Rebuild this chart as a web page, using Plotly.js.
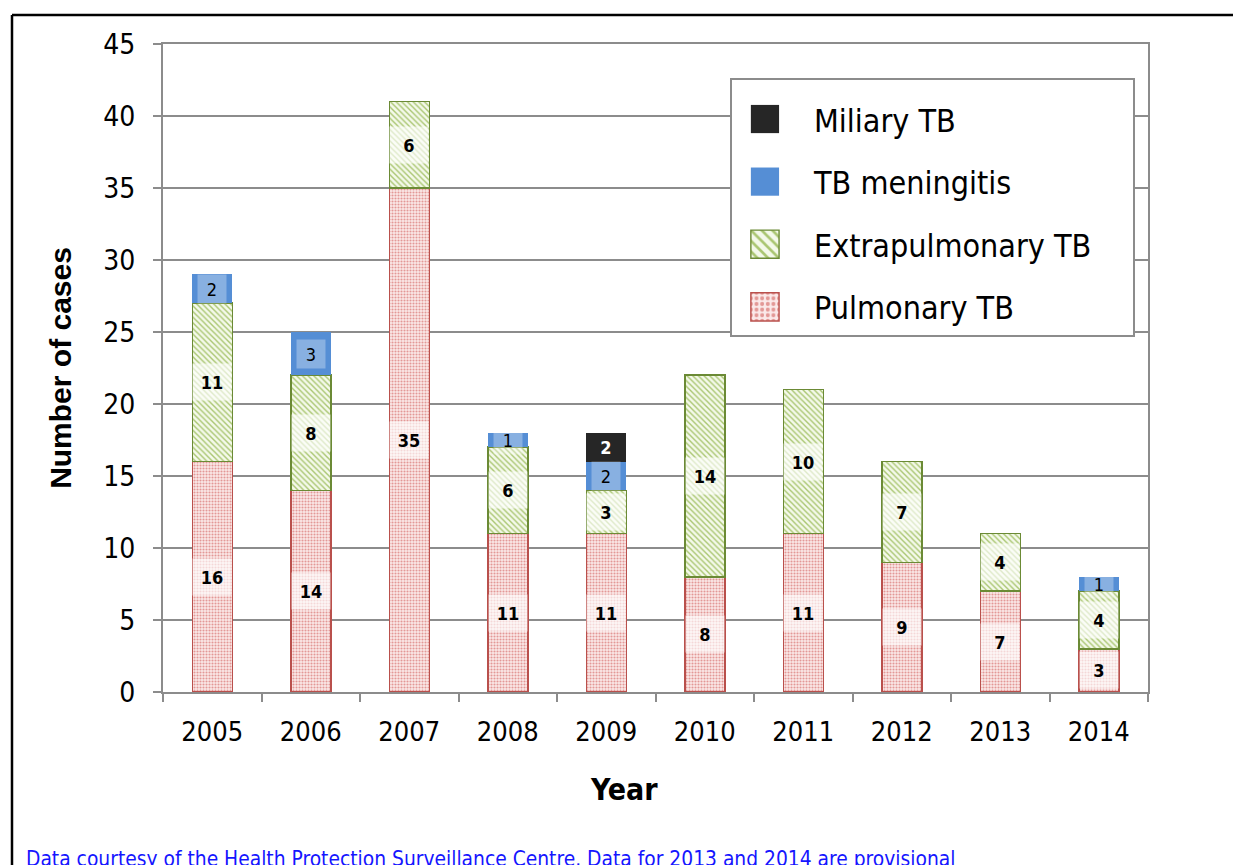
<!DOCTYPE html>
<html>
<head>
<meta charset="utf-8">
<script src="https://cdn.plot.ly/plotly-3.0.1.min.js"></script>
<style>
  html, body { margin: 0; padding: 0; background: #ffffff; }
  #chart { width: 1233px; height: 865px; }
</style>
</head>
<body>
<div id="chart"></div>
<script>
const years = ['2005', '2006', '2007', '2008', '2009', '2010', '2011', '2012', '2013', '2014'];
const pulmonary = [16, 14, 35, 11, 11, 8, 11, 9, 7, 3];
const extrapulmonary = [11, 8, 6, 6, 3, 14, 10, 7, 4, 4];
const meningitis = [2, 3, 0, 1, 2, 0, 0, 0, 0, 1];
const miliary = [0, 0, 0, 0, 2, 0, 0, 0, 0, 0];
const yTicks = [0, 5, 10, 15, 20, 25, 30, 35, 40, 45];
const xTitle = 'Year';
const yTitle = 'Number of cases';
const footnote = 'Data courtesy of the Health Protection Surveillance Centre. Data for 2013 and 2014 are provisional';

const FONT = "'DejaVu Sans Condensed', 'DejaVu Sans', sans-serif";
const GRAY = '#8c8c8c';
const PAD = '\u00a0\u00a0\u00a0\u00a0';

const series = [
  { name: 'Pulmonary TB', values: pulmonary, rank: 4,
    marker: { color: '#e7a3a2', line: { color: '#b9504c', width: 1.5 },
      pattern: { shape: '.', bgcolor: '#fbe9e9', fgcolor: '#e39896', size: 3, solidity: 0.4 } },
    label: { bold: true, color: '#000', bg: 'rgba(255,255,255,0.62)', w: 34, h: 32 } },
  { name: 'Extrapulmonary TB' + PAD, values: extrapulmonary, rank: 3,
    marker: { color: '#b9d08a', line: { color: '#6b8a35', width: 1.5 },
      pattern: { shape: '\\', bgcolor: '#f4f9ea', fgcolor: '#aac672', size: 4, solidity: 0.35 } },
    label: { bold: true, color: '#000', bg: 'rgba(255,255,255,0.62)', w: 34, h: 32 } },
  { name: 'TB meningitis', values: meningitis, rank: 2,
    marker: { color: '#558ed5', line: { color: '#558ed5', width: 0 } },
    label: { bold: false, color: '#000', bg: 'rgba(255,255,255,0.3)', w: 24, h: 24 } },
  { name: 'Miliary TB', values: miliary, rank: 1,
    marker: { color: '#262626', line: { color: '#262626', width: 0 } },
    label: { bold: true, color: '#fff', bg: 'rgba(0,0,0,0)', w: 24, h: 24 } }
];

const traces = series.map((s, i) => ({
  type: 'bar',
  name: s.name,
  x: years,
  y: s.values.map(v => v === 0 ? null : v),
  marker: s.marker,
  legendgroup: 'g' + i,
  legendrank: s.rank,
  hoverinfo: 'x+y+name'
}));

// stacked label annotations (category axis: x given as category index)
const annotations = [];
const base = years.map(() => 0);
series.forEach(s => {
  s.values.forEach((v, j) => {
    if (v > 0) {
      annotations.push({
        x: j, y: base[j] + v / 2, xref: 'x', yref: 'y',
        text: s.label.bold ? '<b>' + v + '</b>' : String(v),
        showarrow: false,
        font: { family: FONT, size: 18, color: s.label.color },
        bgcolor: s.label.bg, width: s.label.w, height: s.label.h, borderpad: 2,
        align: 'center', valign: 'middle'
      });
      base[j] += v;
    }
  });
});

annotations.push({
  xref: 'paper', yref: 'paper', x: 0.468, y: -0.151, xanchor: 'center', yanchor: 'middle',
  text: '<b>' + xTitle + '</b>', showarrow: false,
  font: { family: FONT, size: 30, color: '#000' }
});

annotations.push({
  xref: 'paper', yref: 'paper', x: -0.141, y: -0.257, xanchor: 'left', yanchor: 'middle',
  text: footnote, showarrow: false,
  font: { family: FONT, size: 20.8, color: '#1515ff' }
});

const layout = {
  width: 1233, height: 865,
  margin: { l: 163, r: 85, t: 44, b: 173 },
  paper_bgcolor: '#ffffff', plot_bgcolor: '#ffffff',
  barmode: 'stack', bargap: 0.594,
  font: { family: FONT, color: '#000' },
  showlegend: true,
  legend: {
    x: 0.5756, y: 0.9475, xanchor: 'left', yanchor: 'top',
    traceorder: 'grouped', tracegroupgap: 18,
    title: { text: ' ', font: { family: FONT, size: 9 } },
    bordercolor: GRAY, borderwidth: 2, bgcolor: '#ffffff',
    font: { family: FONT, size: 32, color: '#000' },
    itemwidth: 72, itemclick: false, itemdoubleclick: false
  },
  xaxis: {
    type: 'category', tickson: 'boundaries', tickangle: 0,
    ticks: 'outside', ticklen: 8, tickcolor: GRAY, tickwidth: 2,
    showline: true, linecolor: GRAY, linewidth: 2, mirror: true,
    showgrid: false,
    tickfont: { family: FONT, size: 27, color: '#000' },
    ticklabelstandoff: 15
  },
  yaxis: {
    range: [0, 45], tickvals: yTicks, ticktext: yTicks.map(String),
    ticks: 'outside', ticklen: 8, tickcolor: GRAY, tickwidth: 2,
    showline: true, linecolor: GRAY, linewidth: 2, mirror: true,
    showgrid: true, gridcolor: GRAY, gridwidth: 2, zeroline: false,
    tickfont: { family: FONT, size: 28, color: '#000' },
    ticklabelstandoff: 12,
    title: { text: '<b>' + yTitle + '</b>', font: { family: "'Liberation Sans', Arial, sans-serif", size: 30, color: '#000' }, standoff: 23 }
  },
  annotations: annotations,
  shapes: [
    { type: 'line', xref: 'paper', yref: 'paper', x0: -0.1533, x1: 1.1, y0: 1.0448, y1: 1.0448,
      line: { color: '#000', width: 2.5 } },
    { type: 'line', xref: 'paper', yref: 'paper', x0: -0.1533, x1: -0.1533, y0: 1.0448, y1: -0.3,
      line: { color: '#000', width: 2.5 } }
  ]
};

Plotly.newPlot('chart', traces, layout, { displayModeBar: false, staticPlot: true }).then(() => {
  document.querySelectorAll('.legendpoints path').forEach(p => {
    p.setAttribute('transform', 'translate(33,0) scale(2.35)');
    p.style.strokeWidth = '0.6px';
  });
});
</script>
</body>
</html>
